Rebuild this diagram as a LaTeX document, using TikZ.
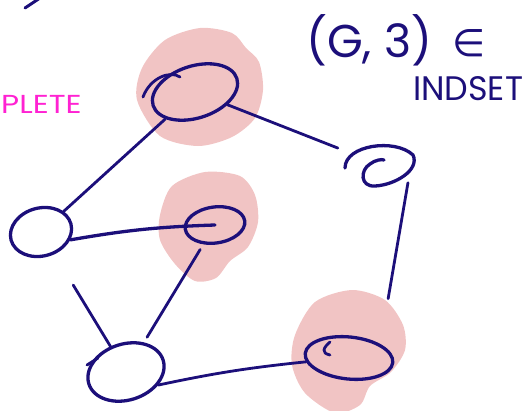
\documentclass[tikz,border=0pt]{standalone}
\usepackage{fontspec}
\newfontfamily\hand{Poppins}
\newfontfamily\symb{DejaVu Sans}
\usetikzlibrary{shapes.geometric}
\definecolor{ink}{HTML}{1C0F7A}
\definecolor{blush}{HTML}{F1C4C4}
\definecolor{hotpink}{HTML}{FF22D2}

\tikzset{
  vertex/.style={draw=ink,ellipse,line width=3.3pt,inner sep=0pt},
  pen/.style={draw=ink,line width=2.8pt,line cap=round},
  blob/.style={fill=blush}
}

\begin{document}
\begin{tikzpicture}[x=1pt,y=-1pt]
\useasboundingbox (0,0) rectangle (522,410);
\clip (0,0) rectangle (522,410);
% highlighted set: three shaded blobs
\fill[blob] plot[smooth cycle] coordinates {(137,100) (142,68) (165,40) (200,28) (232,33) (246,48) (259,62) (263,90) (255,118) (232,137) (198,146) (160,136)};
\fill[blob] plot[smooth cycle] coordinates {(160,215) (172,186) (205,172) (240,176) (255,195) (258,222) (248,247) (230,261) (216,278) (195,281) (175,264) (160,240)};
\fill[blob] plot[smooth cycle] coordinates {(295,335) (315,302) (352,290) (385,300) (403,325) (405,350) (391,372) (370,386) (360,405) (335,413) (305,393) (292,365)};

% vertices
\node[vertex,minimum width=88pt,minimum height=52pt,rotate=18] (a) at (195,92) {};
\node[ellipse,minimum width=66pt,minimum height=42pt,inner sep=0pt] (b) at (381,165) {};
\node[vertex,minimum width=60pt,minimum height=36pt,rotate=8] (c) at (215,225) {};
\node[vertex,minimum width=62pt,minimum height=48pt,rotate=15] (d) at (41,232) {};
\node[vertex,minimum width=78pt,minimum height=56pt,rotate=18] (e) at (126,372) {};
\node[vertex,minimum width=88pt,minimum height=42pt,rotate=-6] (f) at (349,358) {};

% pen strokes where each loop was started
\draw[pen,shift={(a)}] (-52,5) .. controls (-45,-14) and (-25,-22) .. (-15,-15);
\draw[pen,line width=3.3pt,shift={(b)}] (-36,3) .. controls (-36,-20) and (14,-27) .. (32,-10)
  .. controls (39,5) and (14,20) .. (-6,21) .. controls (-21,22) and (-21,5) .. (-11,-1)
  .. controls (-6,-5) and (1,-6) .. (3,-5);
\draw[pen,shift={(e)}] (-39,-7) -- (-28,-14);
\draw[pen,shift={(f)}] (-19,-16) .. controls (-26,-10) and (-28,-5) .. (-19,-3);

% edges
\draw[pen] (a) -- (d);
\draw[pen,shorten >=16pt] (a) -- (b);
\draw[pen,line width=3.3pt] (d.-30) to[bend left=4] (c.center);
\draw[pen,shorten <=6pt,shorten >=6pt] (c) -- (e);
\draw[pen,shorten <=36pt] (d) -- (e);
\draw[pen] (e.-40) to[bend left=3] (f);
\draw[pen,shorten <=18pt,shorten >=46pt] ([xshift=30pt]b.center) -- (f.30);

% labels
\node[anchor=base west,inner sep=0pt,text=ink,font=\hand\fontsize{46}{46}\selectfont] (pair) at (306,57) {(G, 3)};
\node[anchor=base west,inner sep=0pt,text=ink,font=\symb\fontsize{38}{38}\selectfont] (member) at (452,56) {∈};
\node[anchor=base west,inner sep=0pt,text=ink,xscale=0.98,font=\hand\fontsize{34}{34}\selectfont] (lang) at (413,100) {INDSET};
\node[anchor=base west,inner sep=0pt,text=hotpink,xscale=1.2,font=\hand\fontsize{26}{26}\selectfont] (clique) at (1,113) {PLETE};
\draw[pen,line width=3pt] (25,8) -- (40,-2);
\end{tikzpicture}
\end{document}
